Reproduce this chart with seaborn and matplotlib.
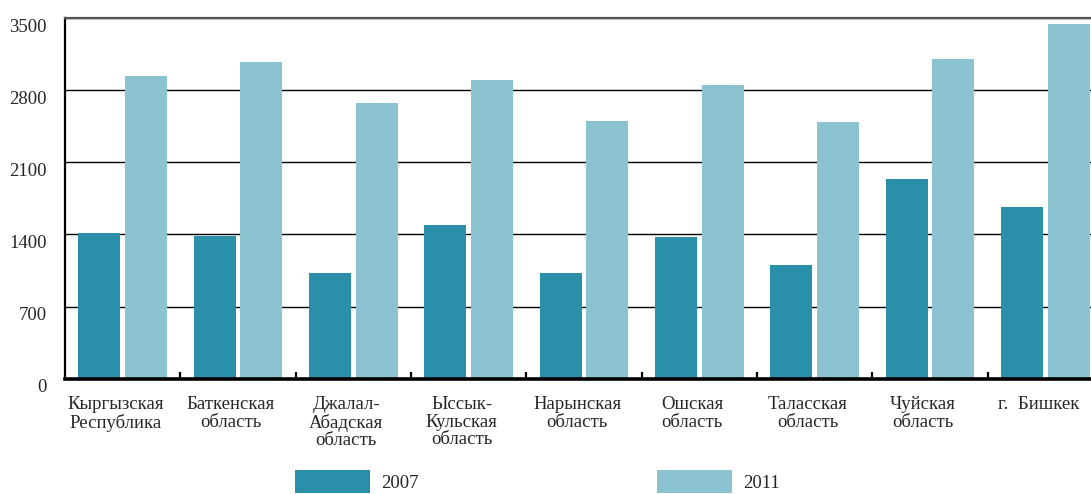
"""
Average monthly wage by region, 2007 vs 2011 - grouped bar chart
"""

import numpy as np
import pandas as pd
import matplotlib
matplotlib.use('Agg')
import matplotlib.pyplot as plt
import matplotlib.transforms as mtransforms
from matplotlib.ticker import FixedLocator
import seaborn as sns

# Data
regions = [
    'Кыргызская\nРеспублика', 'Баткенская\nобласть', 'Джалал-\nАбадская\nобласть',
    'Ыссык-\nКульская\nобласть', 'Нарынская\nобласть', 'Ошская\nобласть',
    'Таласская\nобласть', 'Чуйская\nобласть', 'г.  Бишкек',
]
years = ['2007', '2011']
values_2007 = [1415, 1389, 1026, 1492, 1026, 1376, 1103, 1940, 1667]
values_2011 = [2941, 3077, 2678, 2902, 2503, 2853, 2494, 3106, 3447]
y_ticks = [0, 700, 1400, 2100, 2800, 3500]

colors = ['#2A8FA8', '#8BC4D0']

df = pd.DataFrame({
    'region': regions * 2,
    'year': [years[0]] * len(regions) + [years[1]] * len(regions),
    'value': values_2007 + values_2011,
})

sns.set_style('white')
plt.rcParams['font.family'] = ['Liberation Serif', 'DejaVu Serif']
plt.rcParams['font.size'] = 13.5

fig = plt.figure(figsize=(10.91, 4.94), dpi=100)
ax = fig.add_axes([65 / 1091, 115.5 / 494, 1038 / 1091, 360 / 494])

sns.barplot(data=df, x='region', y='value', hue='year', order=regions,
            hue_order=years, palette=colors, width=0.814, gap=0.106,
            saturation=1, linewidth=0, ax=ax)

ax.set_xlim(-0.5, len(regions) - 0.5)
ax.set_ylim(0, 3500)
ax.set_xlabel('')
ax.set_ylabel('')

# y axis: gridlines, no tick marks, labels nudged down
ax.set_yticks(y_ticks)
ax.set_yticklabels([str(v) for v in y_ticks])
ax.yaxis.grid(True, color='black', linewidth=1)
ax.set_axisbelow(True)
ax.tick_params(axis='y', length=0, pad=13)
shift = mtransforms.ScaledTranslation(0, -5 / 72, fig.dpi_scale_trans)
for lbl in ax.get_yticklabels():
    lbl.set_transform(lbl.get_transform() + shift)

# x axis: labels under each group, small ticks between groups
ax.tick_params(axis='x', which='major', length=0, pad=12.5)
ax.xaxis.set_minor_locator(FixedLocator(np.arange(0.5, len(regions), 1.0)))
ax.tick_params(axis='x', which='minor', direction='in', length=5, width=1.6,
               color='black', bottom=True)
xshift = mtransforms.ScaledTranslation(-5 / 72, 0, fig.dpi_scale_trans)
for lbl in ax.get_xticklabels():
    lbl.set_linespacing(1.06)
    lbl.set_transform(lbl.get_transform() + xshift)

for side, lw, col in [('left', 1.6, 'black'), ('bottom', 2.6, 'black'),
                      ('top', 1.6, '#555555')]:
    ax.spines[side].set_visible(True)
    ax.spines[side].set_linewidth(lw)
    ax.spines[side].set_color(col)
ax.spines['right'].set_visible(False)

handles, labels = ax.get_legend_handles_labels()
ax.legend(handles, labels, ncol=2, loc='upper left',
          bbox_to_anchor=(295 / 1091, 1 - 470 / 494), bbox_transform=fig.transFigure,
          frameon=False, borderpad=0, borderaxespad=0, handlelength=4.0,
          handleheight=1.5, handletextpad=0.6, columnspacing=12.7)

fig.savefig('out.png', dpi=100)
